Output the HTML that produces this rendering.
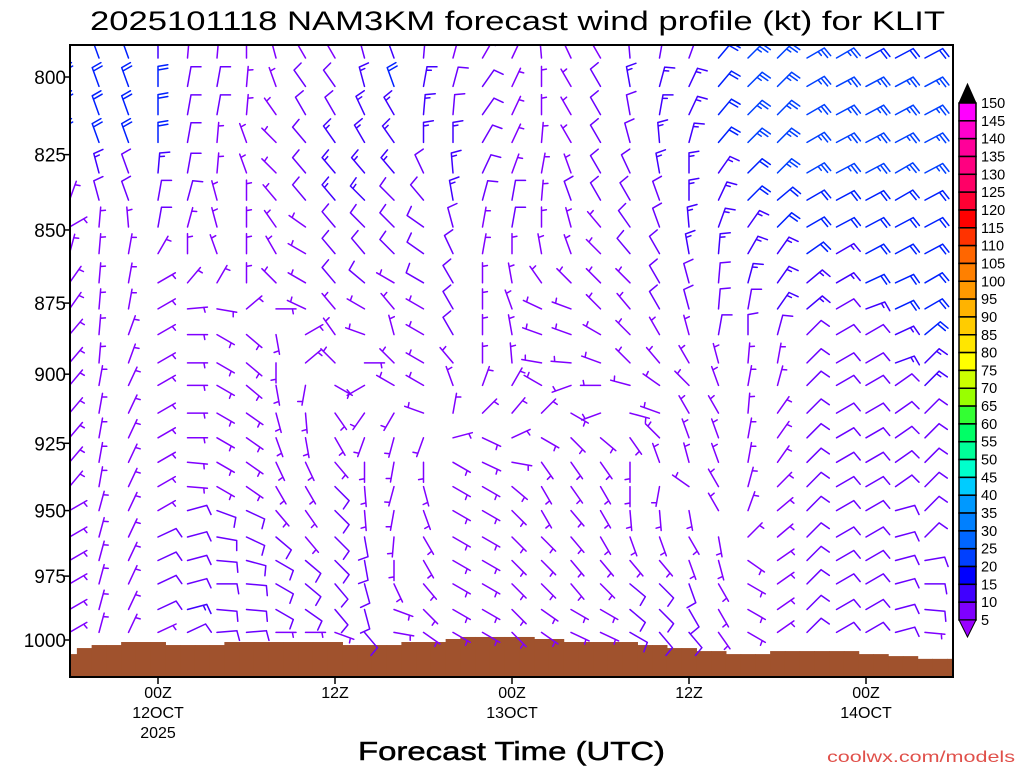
<!DOCTYPE html>
<html><head><meta charset="utf-8"><title>NAM3KM wind profile KLIT</title>
<style>html,body{margin:0;padding:0;background:#fff}svg{display:block;font-family:"Liberation Sans",sans-serif}</style>
</head><body>
<svg id="chart" xmlns="http://www.w3.org/2000/svg" width="1024" height="768" viewBox="0 0 1024 768">
<defs><clipPath id="plotclip"><rect x="70" y="45" width="883" height="632"/></clipPath></defs>
<rect width="1024" height="768" fill="#fff"/>
<text x="90" y="30" font-size="27" textLength="855" lengthAdjust="spacingAndGlyphs" fill="#000">2025101118 NAM3KM forecast wind profile (kt) for KLIT</text>
<g id="ground"></g>
<g id="barbs" clip-path="url(#plotclip)"></g>
<rect x="70" y="45" width="883" height="632" fill="none" stroke="#000" stroke-width="2"/>
<g id="yaxis"></g>
<g id="xaxis"></g>
<g id="cbar"></g>
<text x="358" y="760" font-size="26" textLength="307" lengthAdjust="spacingAndGlyphs" fill="#000" stroke="#000" stroke-width="0.5">Forecast Time (UTC)</text>
<text x="827" y="762" font-size="16" textLength="188" lengthAdjust="spacingAndGlyphs" fill="#e0504a">coolwx.com/models</text>
</svg>
<script>
const levels = [794,803,812,821,831,840,849,858,868,877,886,896,904,914,923,932,941,950,960,969,978,988,997];
const columnHours = [-6,-4,-2,0,2,4,6,8,10,12,14,16,18,20,22,24,26,28,30,32,34,36,38,40,42,44,46,48,50,52];
const yTicks = [800,825,850,875,900,925,950,975,1000];
const xTickHours = [0,12,24,36,48];
const xTickLine1 = ["00Z","12Z","00Z","12Z","00Z"];
const xTickLine2 = ["12OCT","","13OCT","","14OCT"];
const xTickLine3 = ["2025","","","",""];
const surfaceHours = [-6,-5,-4,-3,-2,-1,0,1,2,3,4,5,6,7,8,9,10,11,12,13,14,15,16,17,18,19,20,21,22,23,24,25,26,27,28,29,30,31,32,33,34,35,36,37,38,39,40,41,42,43,44,45,46,47,48,49,50,51,52,53,54];
const surfacePres = [1005.6,1003.2,1002,1002,1000.8,1000.8,1000.8,1002,1002,1002,1002,1000.8,1000.8,1000.8,1000.8,1000.8,1000.8,1000.8,1000.8,1002,1002,1002,1002,1000.8,1000.8,1000.8,999.6,998.8,998.8,998.8,998.8,998.8,999.6,999.6,1000.8,1000.8,1000.8,1000.8,1000.8,1002,1002,1003.2,1003.2,1004.4,1004.4,1005.6,1005.6,1005.6,1004.4,1004.4,1004.4,1004.4,1004.4,1004.4,1005.6,1005.6,1006.4,1006.4,1007.5,1007.5,1007.5];
const cbarLabels = [150,145,140,135,130,125,120,115,110,105,100,95,90,85,80,75,70,65,60,55,50,45,40,35,30,25,20,15,10,5];
const cbarColors = ["#ff00ff","#ff00cc","#ff0099","#ff0080","#ff0066","#ff0033","#ff0000","#ff3300","#ff6600","#ff8000","#ff9900","#ffb300","#ffcc00","#ffe600","#ffff00","#ccff00","#99ff00","#33ff33","#00ff66","#00ff99","#00ffcc","#00ccff","#0099ff","#0080ff","#0066ff","#0040ff","#0000ff","#4000ff","#7f00ff"];

const dir00=[340,340,340,0,5,5,0,345,330,330,345,340,5,15,30,25,355,335,330,355,10,20,40,45,45,60,60,62,62,62];
const spd00=[20,20,20,15,5,5,5,5,5,5,10,15,10,5,5,5,5,5,5,10,10,10,20,25,25,25,25,20,20,20];
const dir01=[340,340,340,0,10,10,5,340,325,325,345,340,10,15,35,25,0,330,330,350,15,25,40,45,45,60,62,62,62,62];
const spd01=[20,20,20,20,10,10,5,5,10,10,15,20,15,10,10,5,5,5,10,15,15,15,20,25,25,25,25,25,25,25];
const dir02=[340,340,340,0,10,10,5,325,330,330,335,330,5,5,35,25,0,330,330,350,10,25,40,45,45,60,62,62,62,62];
const spd02=[20,20,20,20,10,10,5,5,10,10,15,15,15,10,10,5,5,5,10,10,15,15,20,25,25,25,25,25,25,25];
const dir03=[340,340,340,0,10,5,340,315,320,325,330,325,0,0,30,25,5,330,330,345,355,15,40,45,45,60,62,62,62,62];
const spd03=[20,20,20,20,10,5,5,5,10,15,15,15,15,15,10,5,5,5,10,10,15,15,20,25,25,25,25,25,25,25];
const dir04=[335,345,340,5,10,5,340,315,320,320,320,320,335,355,25,20,10,340,330,335,350,0,35,45,45,60,62,62,60,62];
const spd04=[10,15,10,15,10,5,5,5,10,15,15,15,10,15,10,5,5,5,10,10,15,15,15,20,25,25,25,25,25,25];
const dir05=[20,345,340,10,15,345,0,320,320,320,315,315,320,350,15,10,5,340,330,330,340,0,25,45,50,60,62,62,60,62];
const spd05=[5,10,10,10,10,5,5,5,10,15,15,10,10,15,10,10,5,10,10,10,10,15,15,20,20,20,20,20,20,20];
const dir06=[60,5,355,10,15,345,0,325,305,320,315,315,305,345,10,10,0,345,320,325,340,355,20,35,45,60,62,62,62,62];
const spd06=[5,5,5,10,5,5,5,5,5,10,10,10,10,10,5,10,5,5,5,10,10,15,15,15,20,20,20,20,20,20];
const dir07=[15,5,10,30,0,340,0,330,300,320,320,315,305,335,10,0,350,340,315,320,330,350,5,30,35,55,60,62,62,62];
const spd07=[5,5,5,5,3,3,5,5,5,10,10,10,10,10,5,5,5,5,5,10,10,15,15,15,15,20,15,20,20,20];
const dir08=[35,5,10,60,40,30,0,315,300,320,310,300,300,330,0,350,325,315,315,315,330,345,5,15,35,50,60,65,65,60];
const spd08=[5,5,5,5,3,3,3,5,5,10,10,5,10,10,5,5,5,5,5,5,10,10,10,15,15,15,15,20,20,20];
const dir09=[35,5,10,60,85,100,50,90,295,320,300,320,300,330,0,340,295,290,315,320,330,345,5,10,35,50,60,70,65,60];
const spd09=[5,5,5,5,3,3,3,3,5,5,5,5,5,10,5,5,5,5,5,5,10,10,10,10,15,15,10,15,20,20];
const dir10=[40,5,20,60,90,120,130,170,60,325,290,345,300,330,0,350,290,290,300,315,330,345,10,0,15,45,60,60,65,50];
const spd10=[5,5,5,5,5,3,5,5,5,5,5,3,5,10,5,5,5,5,5,5,5,5,10,10,10,10,10,10,15,20];
const dir11=[40,5,20,60,90,120,130,180,50,315,90,315,300,320,0,355,280,275,290,315,320,330,345,5,10,45,60,60,70,45];
const spd11=[5,5,5,5,5,5,5,5,5,3,5,3,5,5,5,5,5,5,5,5,5,5,5,5,5,10,10,10,15,15];
const dir12=[40,10,25,60,90,120,130,170,190,120,240,300,300,340,20,30,300,250,270,285,305,315,340,10,15,45,60,60,55,45];
const spd12=[5,5,5,5,5,5,5,5,5,3,5,3,3,5,5,5,3,3,3,5,5,5,5,5,5,10,10,10,10,15];
const dir13=[40,10,25,60,90,120,125,165,175,145,215,210,290,10,45,40,45,120,250,105,290,330,330,5,35,45,60,60,55,45];
const spd13=[5,5,5,5,5,5,5,5,5,3,3,3,3,5,5,5,3,3,3,3,5,5,5,5,3,10,10,10,10,10];
const dir14=[40,10,25,60,90,120,125,160,170,150,200,195,200,75,115,65,120,135,130,145,315,340,340,10,35,45,60,60,55,45];
const spd14=[5,5,5,5,5,5,5,5,5,5,5,5,3,3,5,5,3,3,3,3,3,3,5,5,3,10,10,10,10,10];
const dir15=[40,10,25,60,95,120,125,155,155,140,180,190,180,120,115,100,145,145,145,180,340,345,340,10,35,45,60,60,55,45];
const spd15=[5,5,5,5,5,5,5,5,5,5,5,5,3,5,5,5,5,5,5,3,3,3,5,5,3,10,10,10,10,10];
const dir16=[40,10,25,60,95,120,125,150,150,135,175,195,165,120,120,130,150,145,150,180,190,305,330,15,45,45,60,60,55,45];
const spd16=[5,5,5,5,5,5,5,5,5,10,5,5,5,5,5,5,5,5,5,5,3,3,3,5,3,10,10,10,10,10];
const dir17=[60,15,25,60,75,110,115,140,145,135,175,190,160,120,120,135,150,140,150,175,175,170,330,20,50,45,60,60,75,45];
const spd17=[3,3,5,5,10,10,10,5,5,10,5,5,5,5,5,5,5,5,5,5,5,3,3,3,3,10,10,10,10,10];
const dir18=[60,15,25,65,75,100,115,130,140,135,170,185,150,120,120,135,135,140,150,160,160,150,170,45,50,45,60,60,75,45];
const spd18=[3,3,5,10,10,10,10,10,5,10,10,5,5,5,5,5,5,5,5,5,5,3,3,3,3,10,10,10,10,10];
const dir19=[60,15,25,65,75,95,105,120,130,135,170,180,150,120,120,135,135,140,140,140,140,160,165,125,55,45,60,60,75,80];
const spd19=[3,3,5,10,10,10,10,10,10,10,10,5,5,5,5,5,5,5,5,5,5,5,5,3,3,10,10,10,10,10];
const dir20=[60,15,25,65,75,90,95,120,130,140,165,155,140,120,120,135,135,140,135,130,135,160,150,120,55,45,60,60,75,90];
const spd20=[3,3,5,10,10,10,10,10,10,10,10,5,5,5,5,5,5,5,5,10,10,10,5,3,3,10,10,10,10,10];
const dir21=[60,15,25,65,75,95,95,120,125,140,165,110,135,120,120,135,125,120,120,130,135,150,150,120,55,45,60,60,75,95];
const spd21=[3,3,5,10,15,10,10,10,10,10,10,3,5,5,5,5,5,5,5,10,10,10,5,3,3,10,10,10,10,10];
const dir22=[60,15,25,65,65,85,85,90,90,110,140,100,125,120,120,135,125,115,115,120,140,140,145,120,55,45,60,60,75,95];
const spd22=[3,3,5,5,10,10,10,5,5,5,10,3,5,5,5,5,5,5,5,10,10,10,5,3,3,10,10,10,10,5];
const dirRows=[dir00,dir01,dir02,dir03,dir04,dir05,dir06,dir07,dir08,dir09,dir10,dir11,dir12,dir13,dir14,dir15,dir16,dir17,dir18,dir19,dir20,dir21,dir22];
const spdRows=[spd00,spd01,spd02,spd03,spd04,spd05,spd06,spd07,spd08,spd09,spd10,spd11,spd12,spd13,spd14,spd15,spd16,spd17,spd18,spd19,spd20,spd21,spd22];

(function(){
const NS="http://www.w3.org/2000/svg";
function xOf(h){return 158+h*14.75;}
function yOf(p){return 77+563*Math.log(p/800)/Math.log(1000/800);}
function mk(tag,attrs,parent){const e=document.createElementNS(NS,tag);for(const k in attrs)e.setAttribute(k,attrs[k]);parent.appendChild(e);return e;}
function speedColor(s){
  if(s<10) return "#8000ff";
  if(s<15) return "#6a00ff";
  if(s<20) return "#4000ff";
  if(s<25) return "#0020ff";
  return "#0040ff";
}

const gG=document.getElementById('ground');
surfaceHours.forEach(function(h,i){
  const x0=Math.max(70,xOf(h-0.5)), x1=Math.min(953,xOf(h+0.5));
  const y=yOf(surfacePres[i]);
  const r=mk('rect',{x:x0,y:y,width:x1-x0+0.6,height:677-y,fill:'#a0522d'},gG);
  
  
});

const gB=document.getElementById('barbs');
const L=20, FB=10, HB=5, SP=3.6, ANG=80*Math.PI/180;
levels.forEach(function(p,r){
  const y0=yOf(p);
  columnHours.forEach(function(h,c){
    const d=dirRows[r][c]*Math.PI/180, s=spdRows[r][c];
    const x0=xOf(h);
    const ux=Math.sin(d), uy=-Math.cos(d);
    const bx=Math.sin(d+ANG), by=-Math.cos(d+ANG);
    const tx=x0+ux*L, ty=y0+uy*L;
    let path="M"+x0.toFixed(1)+","+y0.toFixed(1)+"L"+tx.toFixed(1)+","+ty.toFixed(1);
    const n=Math.round(s/5), full=Math.floor(n/2), half=n%2;
    let k=0;
    for(let f=0;f<full;f++){const px=tx-ux*SP*k, py=ty-uy*SP*k;path+="M"+px.toFixed(1)+","+py.toFixed(1)+"l"+(bx*FB).toFixed(1)+","+(by*FB).toFixed(1);k++;}
    if(half){if(k===0)k=1;const px=tx-ux*SP*k, py=ty-uy*SP*k;path+="M"+px.toFixed(1)+","+py.toFixed(1)+"l"+(bx*HB).toFixed(1)+","+(by*HB).toFixed(1);}
    const e=mk('path',{d:path,stroke:speedColor(s),'stroke-width':1.5,fill:'none','stroke-linecap':'round'},gB);
    
    
  });
});

const gY=document.getElementById('yaxis');
yTicks.forEach(function(v){
  const y=yOf(v);
  const t=mk('line',{x1:64,y1:y,x2:70,y2:y,stroke:'#000','stroke-width':1.5},gY);
  
  
  const tx=mk('text',{x:66,y:y+7,'font-size':19,'text-anchor':'end',fill:'#000'},gY);
  tx.textContent=v;
  
  
});

const gX=document.getElementById('xaxis');
xTickHours.forEach(function(h,i){
  const x=xOf(h);
  const t=mk('line',{x1:x,y1:677,x2:x,y2:684,stroke:'#000','stroke-width':1.5},gX);
  
  
  const lines=[xTickLine1[i],xTickLine2[i],xTickLine3[i]];
  lines.forEach(function(s,j){
    if(!s) return;
    const tx=mk('text',{x:x,y:698+j*20,'font-size':16,'text-anchor':'middle',fill:'#000'},gX);
    tx.textContent=s;
    
    
  });
});

const gC=document.getElementById('cbar');
const cbX=959, cbW=17, cbTop=103, boxH=(620-103)/29;
const topArrow=mk('polygon',{points:cbX+","+cbTop+" "+(cbX+cbW)+","+cbTop+" "+(cbX+cbW/2)+",84",fill:'#000',stroke:'#000','stroke-width':1},gC);


cbarColors.forEach(function(col,i){
  const r=mk('rect',{x:cbX,y:cbTop+i*boxH,width:cbW,height:boxH,fill:col,stroke:'#000','stroke-width':1.5},gC);
  
  
});
const botArrow=mk('polygon',{points:cbX+",620 "+(cbX+cbW)+",620 "+(cbX+cbW/2)+",637",fill:'#9900ff',stroke:'#000','stroke-width':1},gC);


cbarLabels.forEach(function(v,i){
  const t=mk('text',{x:981,y:cbTop+i*boxH+5,'font-size':14.5,fill:'#000'},gC);
  t.textContent=v;
  
  
});
})();
</script>
</body></html>
